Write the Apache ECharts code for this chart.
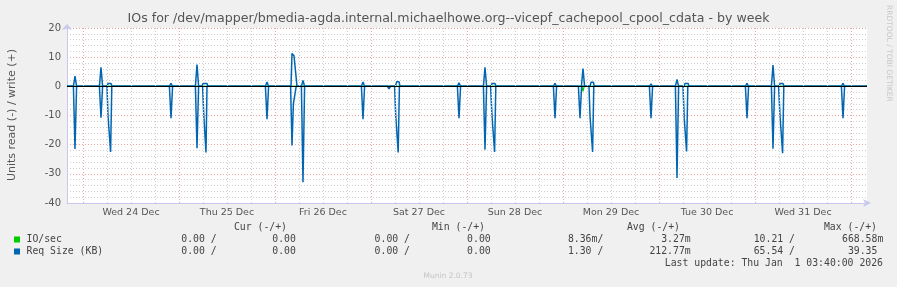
<!DOCTYPE html>
<html><head><meta charset="utf-8">
<script src="https://cdn.jsdelivr.net/npm/echarts@6/dist/echarts.min.js"></script>
<style>html,body{margin:0;padding:0;background:#f0f0f0}#c{width:897px;height:287px}</style>
</head><body><div id="c"></div>
<script>
const titleText = 'IOs for /dev/mapper/bmedia-agda.internal.michaelhowe.org--vicepf_cachepool_cpool_cdata - by week';
const yAxisTitle = 'Units read (-) / write (+)';
const dayLabels = ['Wed 24 Dec','Thu 25 Dec','Fri 26 Dec','Sat 27 Dec','Sun 28 Dec','Mon 29 Dec','Tue 30 Dec','Wed 31 Dec'];
const dayLabelHours = [12,36,60,84,108,132,156,180];
const majorHours = [0,24,48,72,96,120,144,168,192];
const minorHours = [6,12,18,30,36,42,54,60,66,78,84,90,102,108,114,126,132,138,150,156,162,174,180,186];
const xMin = -4, xMax = 196;
const yMin = -40, yMax = 20;

// Req Size (KB): write (+) and read (-), [hour since Wed 24 00:00, value]
const reqWrite = [[-4,0],
 [-2.4,0],[-2,3.5],[-1.6,0],
 [4.1,0],[4.5,6.5],[4.9,0],
 [6,0],[6.25,1],[7,1],[7.25,0],
 [21.6,0],[22,1],[22.4,0],
 [28.1,0],[28.5,7.5],[28.9,0],
 [29.75,0],[30,1],[31,1],[31.25,0],
 [45.6,0],[46,1.5],[46.4,0],
 [52,0],[52.25,11.3],[52.75,10.5],[53,7],[53.25,6.5],[53.5,0],
 [54.6,0],[55,2],[55.4,0],
 [69.6,0],[70,1.5],[70.4,0],
 [76.1,0],[76.5,0.5],[76.9,0],
 [78.1,0],[78.4,1.6],[79,1.6],[79.25,0],
 [93.6,0],[94,1.2],[94.4,0],
 [100.1,0],[100.5,6.5],[100.9,0],
 [102,0],[102.25,1],[103,1],[103.25,0],
 [117.6,0],[118,1],[118.4,0],
 [124.6,0],[125,6.1],[125.4,0],
 [126.75,0],[127,1.4],[127.6,1.4],[127.85,0],
 [141.6,0],[142,0.8],[142.4,0],
 [148.1,0],[148.5,2.4],[148.9,0],
 [150.25,0],[150.5,1],[151.3,1],[151.5,0],
 [165.6,0],[166,1],[166.4,0],
 [172.1,0],[172.5,7.3],[172.9,0],
 [174,0],[174.25,1],[175,1],[175.25,0],
 [189.6,0],[190,1],[190.4,0],
 [196,0]];
const reqRead = [[-4,0],
 [-2.4,0],[-2,-21.5],[-1.6,0],
 [4.1,0],[4.5,-10.8],[4.9,0],
 [6,0],[6.25,-10],[6.6,-10],[6.9,-22.5],[7.2,0],
 [21.6,0],[22,-10.9],[22.4,0],
 [24.6,0],[25,-0.5],[25.4,0],
 [28.1,0],[28.5,-21.2],[28.9,0],
 [29.9,0],[30.2,-10],[30.5,-10],[30.75,-22.7],[31,0],
 [45.6,0],[46,-11.3],[46.4,0],
 [48.6,0],[49,-0.6],[49.4,0],
 [51.9,0],[52.25,-20.3],[52.6,-6],[53,-5.8],[53.3,0],
 [54.6,0],[55,-32.9],[55.4,0],
 [56.6,0],[57,-0.6],[57.4,0],
 [69.6,0],[70,-11.3],[70.4,0],
 [76.1,0],[76.5,-0.9],[76.9,0],
 [77.9,0],[78.2,-10.4],[78.5,-10.4],[78.8,-22.7],[79.1,0],
 [93.6,0],[94,-10.9],[94.4,0],
 [100.1,0],[100.5,-21.7],[100.9,0],
 [101.9,0],[102.25,-10.1],[102.6,-10.1],[102.9,-22.5],[103.2,0],
 [117.6,0],[118,-10.9],[118.4,0],
 [123.85,0],[124.25,-10.9],[124.65,0],
 [126.5,0],[126.75,-10.1],[127.1,-10.1],[127.4,-22.5],[127.7,0],
 [141.6,0],[142,-10.9],[142.4,0],
 [148.1,0],[148.5,-31.4],[148.9,0],
 [150,0],[150.3,-10.9],[150.65,-10.9],[150.9,-22.3],[151.2,0],
 [165.6,0],[166,-10.9],[166.4,0],
 [172.1,0],[172.5,-21.4],[172.9,0],
 [173.9,0],[174.25,-10],[174.5,-10],[174.9,-22.9],[175.2,0],
 [189.6,0],[190,-10.9],[190.4,0],
 [196,0]];
// IO/sec
const ioWrite = [[-4,0],[196,0]];
const ioRead = [[-4,0],[4.2,0],[4.5,-0.3],[4.8,0],[28,0],[28.3,-0.3],[28.6,0],[52,0],[52.5,-0.4],[53,0],[124.7,0],[125,-1.7],[125.3,0],[196,0]];

const legendHeaders = ['Cur (-/+)','Min (-/+)','Avg (-/+)','Max (-/+)'];
const seriesNames = ['IO/sec','Req Size (KB)'];
const ioRow = ['0.00 /','0.00 ','0.00 /','0.00 ','8.36m/','3.27m','10.21 /','668.58m'];
const reqRow = ['0.00 /','0.00 ','0.00 /','0.00 ','1.30 /','212.77m','65.54 /','39.35 '];
const lastUpdate = 'Last update: Thu Jan  1 03:40:00 2026';
const footer = 'Munin 2.0.73';
const sideText = 'RRDTOOL / TOBI OETIKER';

const GREEN = '#00cc00', BLUE = '#0066b3';
const MONO = '"DejaVu Sans Mono", monospace';
const SANS = '"DejaVu Sans", sans-serif';
const axisCol = '#c8c8ec';

const chart = echarts.init(document.getElementById('c'), null, {renderer:'canvas'});

const headerRight = [287, 485, 680, 877];
const cellRight = [216.7, 301.8, 410, 496.6, 603.3, 690.7, 795, 883.3];
const graphics = [];
graphics.push({type:'text', x:448.5, y:19, style:{text:titleText, font:'12.6px '+SANS, fill:'#555', textAlign:'center', textVerticalAlign:'middle'}});
graphics.push({type:'text', x:12, y:115, rotation:Math.PI/2, style:{text:yAxisTitle, font:'11px '+SANS, fill:'#555', textAlign:'center', textVerticalAlign:'middle'}});
graphics.push({type:'text', x:889, y:5, rotation:-Math.PI/2, style:{text:sideText, font:'7.5px '+SANS, fill:'#c8c8c8', textAlign:'left', textVerticalAlign:'middle'}});
legendHeaders.forEach((h,i)=>graphics.push({type:'text', x:headerRight[i], y:227.5, style:{text:h, font:'9.8px '+MONO, fill:'#444', textAlign:'right', textVerticalAlign:'middle'}}));
[ioRow, reqRow].forEach((row,r)=>{
  const y = 239.5 + r*12;
  graphics.push({type:'rect', shape:{x:14, y:y-3, width:6, height:6}, style:{fill:[GREEN,BLUE][r]}});
  graphics.push({type:'text', x:26.5, y:y, style:{text:seriesNames[r], font:'9.8px '+MONO, fill:'#444', textAlign:'left', textVerticalAlign:'middle'}});
  row.forEach((v,i)=>graphics.push({type:'text', x:cellRight[i], y:y, style:{text:v, font:'9.8px '+MONO, fill:'#444', textAlign:'right', textVerticalAlign:'middle'}}));
});
graphics.push({type:'text', x:883, y:263.5, style:{text:lastUpdate, font:'9.8px '+MONO, fill:'#444', textAlign:'right', textVerticalAlign:'middle'}});
graphics.push({type:'text', x:448, y:276, style:{text:footer, font:'7.5px '+SANS, fill:'#c4c4c4', textAlign:'center', textVerticalAlign:'middle'}});

const gridMarks = minorHours.map(h=>({xAxis:h, lineStyle:{color:'#cfcfcf', type:[1,2], width:1}}))
  .concat(majorHours.map(h=>({xAxis:h, lineStyle:{color:'#e9a3a3', type:[1,2], width:1}})));

const option = {
  backgroundColor:'#f0f0f0',
  animation:false,
  grid:{left:67, right:30, top:28, bottom:84, show:true, backgroundColor:'#ffffff', borderWidth:0},
  xAxis:{type:'value', min:xMin, max:xMax,
    axisLine:{show:true, onZero:false, lineStyle:{color:axisCol, width:1}, symbol:['none','arrow'], symbolSize:[6,8], symbolOffset:[0,4]},
    axisTick:{show:false},
    splitLine:{show:false},
    axisLabel:{show:true, customValues:dayLabelHours, formatter:(v)=>dayLabels[dayLabelHours.indexOf(v)], color:'#555', fontFamily:'DejaVu Sans', fontSize:9.5, margin:5}
  },
  yAxis:[
    {type:'value', position:'left', min:yMin, max:yMax, interval:2, axisLine:{show:false, onZero:false}, axisTick:{show:false}, axisLabel:{show:false},
     splitLine:{show:true, lineStyle:{color:'#cfcfcf', type:[1,2], width:1}}},
    {type:'value', position:'left', min:yMin, max:yMax, interval:10,
     axisLine:{show:true, onZero:false, lineStyle:{color:axisCol, width:1}, symbol:['none','arrow'], symbolSize:[8,6], symbolOffset:[0,4]},
     axisTick:{show:false},
     axisLabel:{color:'#555', fontFamily:'DejaVu Sans', fontSize:10, margin:6},
     splitLine:{show:true, lineStyle:{color:'#e9a3a3', type:[1,2], width:1}}}
  ],
  series:[
    {type:'line', yAxisIndex:1, data:[[xMin,0]], symbol:'none', lineStyle:{opacity:0}, silent:true, z:1,
     markLine:{silent:true, symbol:['none','none'], label:{show:false}, animation:false, data:gridMarks}},
    {name:'IO/sec write', type:'line', yAxisIndex:1, data:ioWrite, symbol:'none', lineStyle:{color:GREEN, width:1.2}, z:2},
    {name:'IO/sec read', type:'line', yAxisIndex:1, data:ioRead, symbol:'none', lineStyle:{color:GREEN, width:1.2}, z:2},
    {name:'Req write', type:'line', yAxisIndex:1, data:reqWrite, symbol:'none', lineStyle:{color:BLUE, width:1.5}, z:3},
    {name:'Req read', type:'line', yAxisIndex:1, data:reqRead, symbol:'none', lineStyle:{color:BLUE, width:1.5}, z:3,
     markLine:{silent:true, symbol:['none','none'], label:{show:false}, animation:false, data:[{yAxis:0, lineStyle:{color:'#000', type:'solid', width:1}}]}}
  ],
  graphic:graphics
};
chart.setOption(option);
</script></body></html>
